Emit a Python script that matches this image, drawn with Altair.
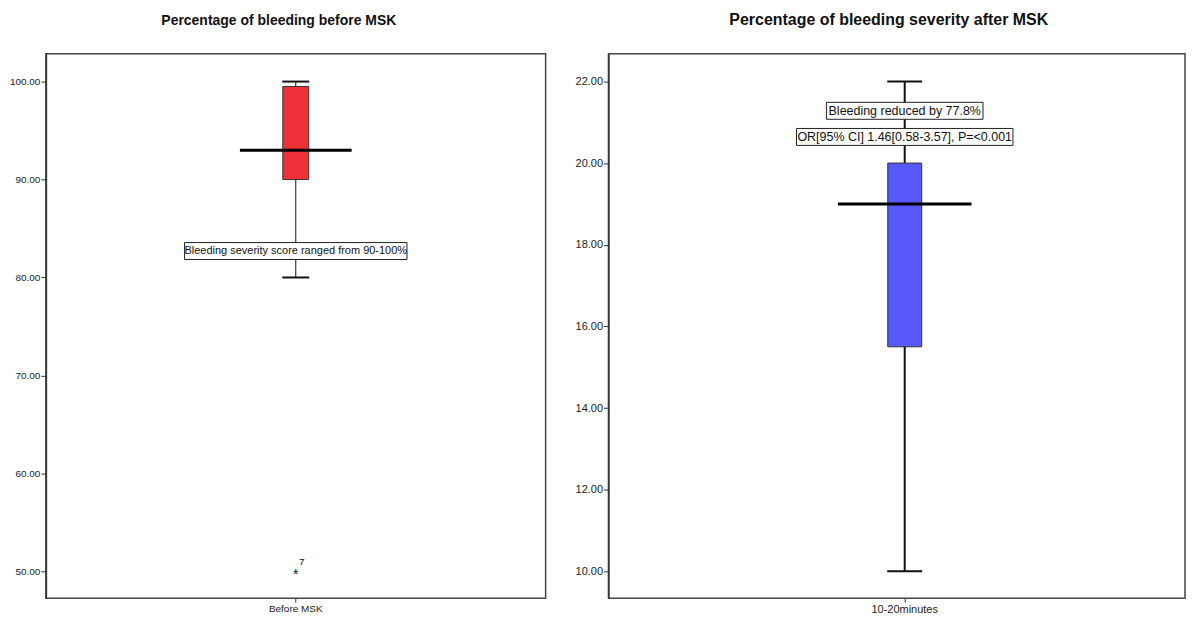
import altair as alt
import pandas as pd

# ---- data ----
groups = ["Before MSK", "10-20minutes"]
titles = ["Percentage of bleeding before MSK", "Percentage of bleeding severity after MSK"]
whisker_low = [80.0, 10.0]
q1 = [90.0, 15.5]
q3 = [99.5, 20.0]
whisker_high = [100.0, 22.0]
center_line = [93.0, 19.0]
box_colors = ["#EE3139", "#5858F8"]
y_domains = [[47.25, 102.85], [9.34, 22.68]]
y_ticks = [[50, 60, 70, 80, 90, 100], [10, 12, 14, 16, 18, 20, 22]]

outlier_group = ["Before MSK"]
outlier_value = [50.0]
outlier_case = ["7"]

annot_group = ["Before MSK", "10-20minutes", "10-20minutes"]
annot_text = ["Bleeding severity score ranged from 90-100%",
              "Bleeding reduced by 77.8%",
              "OR[95% CI] 1.46[0.58-3.57], P=<0.001"]
annot_y = [82.7, 21.28, 20.64]
annot_box_w = [223, 157, 217]

FONT = "Liberation Sans, Arial, sans-serif"

panel_w = [501, 578]
panel_h = 546
box_w = [26, 34]
median_w = [112, 134]
whisker_sw = [1, 2]
title_dx = [-17, -8]
title_size = [14, 16]
label_size = [10, 11]
annot_size = [11, 12.5]
x_range_start = [0, 16]


def panel(i):
    g = groups[i]
    summ = pd.DataFrame({
        "group": [g], "low": [whisker_low[i]], "q1": [q1[i]], "q3": [q3[i]],
        "high": [whisker_high[i]], "mid": [center_line[i]],
    })
    x = alt.X("group:N", title=None, sort=None,
              scale=alt.Scale(range=[x_range_start[i], panel_w[i]]),
              axis=alt.Axis(labelAngle=0, tickSize=4, labelFontSize=label_size[i],
                            labelFont=FONT, labelColor="#222", domain=False,
                            tickColor="#333", labelPadding=1))
    y_scale = alt.Scale(domain=y_domains[i], nice=False, zero=False)
    y_axis = alt.Axis(values=y_ticks[i], format=".2f", grid=False, tickSize=5,
                      labelFontSize=label_size[i], labelFont=FONT, labelColor="#222",
                      domainColor="#333", tickColor="#333", labelPadding=1,
                      domainWidth=1.5)
    base = alt.Chart(summ)
    whisk = base.mark_rule(color="#111", strokeWidth=whisker_sw[i]).encode(
        x=x, y=alt.Y("low:Q", scale=y_scale, axis=y_axis, title=None), y2="high:Q")
    caps_lo = base.mark_tick(color="#111", size=box_w[i] + 1, thickness=2,
                             opacity=1).encode(x=x, y=alt.Y("low:Q"))
    caps_hi = base.mark_tick(color="#111", size=box_w[i] + 1, thickness=2,
                             opacity=1).encode(x=x, y=alt.Y("high:Q"))
    box = base.mark_bar(size=box_w[i], fill=box_colors[i], stroke="#333",
                        strokeWidth=1, opacity=1).encode(x=x, y="q1:Q", y2="q3:Q")
    mid = base.mark_tick(color="#000", size=median_w[i], thickness=3,
                         opacity=1).encode(x=x, y="mid:Q")
    layers = [whisk, box, caps_lo, caps_hi, mid]

    od = pd.DataFrame({"group": outlier_group, "value": outlier_value, "case": outlier_case})
    od = od[od["group"] == g]
    if len(od):
        star = alt.Chart(od).mark_text(text="*", fontSize=14, font=FONT, dy=4,
                                       color="#111").encode(x=x, y="value:Q")
        lab = alt.Chart(od).mark_text(fontSize=10, font=FONT, dx=6, dy=-9,
                                      color="#111").encode(x=x, y="value:Q", text="case:N")
        layers += [star, lab]

    ad = pd.DataFrame({"group": annot_group, "text": annot_text, "y": annot_y,
                       "w": annot_box_w})
    ad = ad[ad["group"] == g]
    for _, r in ad.iterrows():
        w = r["w"]
        h = 17
        path = f"M-1,-{h / w:.5f}H1V{h / w:.5f}H-1Z"
        one = pd.DataFrame([r])
        rect = alt.Chart(one).mark_point(shape=path, size=w * w, filled=True,
                                         fill="white", stroke="#222", strokeWidth=1,
                                         opacity=1).encode(x=x, y="y:Q")
        txt = alt.Chart(one).mark_text(fontSize=annot_size[i], font=FONT, color="#111",
                                       baseline="middle").encode(x=x, y="y:Q",
                                                                 text="text:N")
        layers += [rect, txt]

    return alt.layer(*layers).properties(
        width=panel_w[i], height=panel_h,
        title=alt.TitleParams(titles[i], font=FONT, fontSize=title_size[i],
                              fontWeight="bold", color="#111", anchor="middle",
                              frame="group", dx=title_dx[i], offset=26),
    )


chart = alt.hconcat(panel(0), panel(1), spacing=27).configure(
    padding={"left": 0, "top": 2, "right": 0, "bottom": 0},
    background="white",
    view=alt.ViewConfig(stroke="#444", strokeWidth=1.5),
)

chart.save("out.html", embed_options={"renderer": "svg", "actions": False})
